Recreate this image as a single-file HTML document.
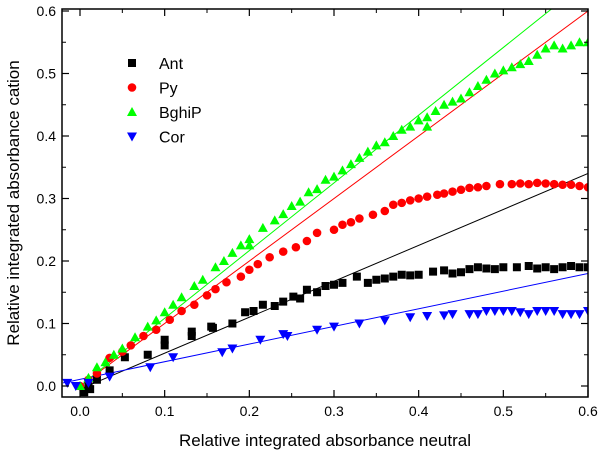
<!DOCTYPE html>
<html><head><meta charset="utf-8"><style>
body{margin:0;background:#fff;}
svg text{font-family:"Liberation Sans",Arial,sans-serif;}
</style></head><body>
<svg id="chart" width="600" height="459" viewBox="0 0 600 459" xmlns="http://www.w3.org/2000/svg">
<defs><clipPath id="clip"><rect x="62" y="9" width="526" height="388"/></clipPath></defs>
<g id="grid"></g>
<g id="lines" clip-path="url(#clip)"></g>
<g id="marks" clip-path="url(#clip)"></g>
<rect x="62" y="9" width="526" height="388" fill="none" stroke="#000" stroke-width="1.5"/>
<g id="ticks"></g>
<text x="325" y="446" font-size="17" text-anchor="middle">Relative integrated absorbance neutral</text>
<text transform="translate(19,203) rotate(-90)" font-size="17" text-anchor="middle">Relative integrated absorbance cation</text>
<g id="legend"></g>
</svg>
<script>
const xTicks=[0.0,0.1,0.2,0.3,0.4,0.5,0.6];
const yTicks=[0.0,0.1,0.2,0.3,0.4,0.5,0.6];
const antX=[0.005,0.01,0.012,0.02,0.035,0.053,0.08,0.1,0.1,0.132,0.132,0.155,0.157,0.18,0.195,0.205,0.216,0.23,0.24,0.252,0.26,0.268,0.28,0.29,0.3,0.31,0.327,0.34,0.35,0.36,0.37,0.38,0.39,0.4,0.417,0.43,0.44,0.45,0.46,0.47,0.48,0.49,0.5,0.516,0.53,0.54,0.55,0.56,0.57,0.58,0.59,0.6];
const antY=[-0.01,0,-0.005,0.01,0.025,0.046,0.05,0.065,0.074,0.08,0.087,0.095,0.093,0.1,0.118,0.12,0.13,0.128,0.135,0.143,0.14,0.154,0.15,0.16,0.162,0.165,0.175,0.165,0.17,0.172,0.175,0.178,0.177,0.178,0.183,0.185,0.18,0.182,0.187,0.19,0.188,0.187,0.19,0.19,0.192,0.188,0.19,0.187,0.19,0.192,0.19,0.19];
const pyX=[0,0.01,0.02,0.035,0.05,0.06,0.075,0.09,0.106,0.12,0.135,0.15,0.16,0.173,0.19,0.2,0.21,0.224,0.24,0.255,0.268,0.28,0.3,0.31,0.32,0.33,0.346,0.36,0.37,0.38,0.39,0.4,0.41,0.422,0.43,0.44,0.45,0.46,0.47,0.48,0.496,0.51,0.52,0.53,0.54,0.55,0.56,0.57,0.58,0.59,0.6];
const pyY=[0,0.01,0.02,0.045,0.055,0.065,0.08,0.09,0.106,0.12,0.13,0.145,0.155,0.166,0.175,0.186,0.195,0.206,0.215,0.222,0.232,0.245,0.25,0.258,0.262,0.268,0.274,0.28,0.29,0.293,0.297,0.3,0.303,0.306,0.308,0.311,0.314,0.317,0.318,0.32,0.323,0.323,0.324,0.323,0.325,0.324,0.323,0.322,0.322,0.32,0.318];
const bgX=[0,0.01,0.02,0.03,0.04,0.05,0.065,0.08,0.09,0.1,0.11,0.12,0.135,0.145,0.16,0.17,0.18,0.19,0.2,0.2,0.216,0.23,0.24,0.25,0.26,0.27,0.28,0.29,0.3,0.31,0.32,0.33,0.34,0.35,0.36,0.37,0.38,0.39,0.4,0.41,0.41,0.42,0.43,0.44,0.45,0.46,0.47,0.48,0.49,0.5,0.51,0.52,0.53,0.54,0.55,0.56,0.57,0.58,0.59,0.6];
const bgY=[0,0.013,0.03,0.038,0.05,0.06,0.078,0.095,0.105,0.118,0.13,0.142,0.16,0.17,0.19,0.2,0.213,0.225,0.235,0.225,0.253,0.265,0.275,0.288,0.295,0.31,0.315,0.33,0.335,0.345,0.355,0.365,0.375,0.385,0.39,0.4,0.41,0.415,0.425,0.43,0.415,0.44,0.45,0.455,0.46,0.47,0.48,0.49,0.5,0.505,0.51,0.515,0.52,0.53,0.54,0.545,0.54,0.545,0.55,0.55];
const corX=[-0.015,-0.005,0.01,0.035,0.083,0.11,0.168,0.18,0.213,0.24,0.245,0.28,0.3,0.33,0.36,0.39,0.41,0.43,0.44,0.46,0.47,0.48,0.49,0.5,0.51,0.52,0.53,0.54,0.55,0.56,0.57,0.58,0.59,0.6];
const corY=[0.005,0,0.005,0.015,0.03,0.046,0.054,0.06,0.074,0.083,0.08,0.09,0.095,0.1,0.105,0.11,0.112,0.113,0.115,0.115,0.115,0.12,0.12,0.12,0.12,0.118,0.115,0.12,0.12,0.12,0.115,0.115,0.115,0.12];
const fitX1=[0,0,0,-0.02];
const fitY1=[-0.005,0,0,0.005];
const fitX2=[0.6,0.6,0.6,0.6];
const fitY2=[0.34,0.6,0.65,0.18];
const seriesNames=["Ant","Py","BghiP","Cor"];
const colors=["#000000","#ff0000","#00ff00","#0000ff"];
const shapes=["square","circle","up","down"];

const NS="http://www.w3.org/2000/svg";
const sx=v=>80+v*(588-80)/0.6;
const sy=v=>386-v*625;
function mk(tag,attrs,parent){const e=document.createElementNS(NS,tag);for(const k in attrs)e.setAttribute(k,attrs[k]);document.getElementById(parent).appendChild(e);return e;}
function marker(shape,x,y,c,parent){
  let e;
  if(shape==="square")e=mk("rect",{x:x-4,y:y-4,width:8,height:8,fill:c},parent);
  else if(shape==="circle")e=mk("circle",{cx:x,cy:y,r:4.3,fill:c},parent);
  else if(shape==="up")e=mk("polygon",{points:`${x-5},${y+4} ${x+5},${y+4} ${x},${y-5}`,fill:c},parent);
  else e=mk("polygon",{points:`${x-5},${y-4} ${x+5},${y-4} ${x},${y+5}`,fill:c},parent);
  return e;
}
xTicks.forEach(t=>{
  const x=sx(t);
  let a=mk("line",{x1:x,y1:397,x2:x,y2:390,stroke:"#000","stroke-width":1.2},"ticks");
  
  
  let b=mk("line",{x1:x,y1:9,x2:x,y2:16,stroke:"#000","stroke-width":1.2},"ticks");
  
  
  if(t<0.6){const m=sx(t+0.05);
    let c=mk("line",{x1:m,y1:397,x2:m,y2:393,stroke:"#000"},"ticks");
    
    
    let d=mk("line",{x1:m,y1:9,x2:m,y2:13,stroke:"#000"},"ticks");
    
    }
  const l=mk("text",{x:x,y:416,"font-size":14,"text-anchor":"middle"},"ticks");
  l.textContent=t.toFixed(1);
  
  
});
yTicks.forEach(t=>{
  const y=sy(t);
  let a=mk("line",{x1:62,y1:y,x2:69,y2:y,stroke:"#000","stroke-width":1.2},"ticks");
  
  
  let b=mk("line",{x1:588,y1:y,x2:581,y2:y,stroke:"#000","stroke-width":1.2},"ticks");
  
  
  if(t<0.6){const m=sy(t+0.05);
    let c=mk("line",{x1:62,y1:m,x2:66,y2:m,stroke:"#000"},"ticks");
    
    
    let d=mk("line",{x1:588,y1:m,x2:584,y2:m,stroke:"#000"},"ticks");
    
    }
  const l=mk("text",{x:56,y:y+5,"font-size":14,"text-anchor":"end"},"ticks");
  l.textContent=t.toFixed(1);
  
  
});
for(let i=0;i<4;i++){
  const ln=mk("line",{x1:sx(fitX1[i]),y1:sy(fitY1[i]),x2:sx(fitX2[i]),y2:sy(fitY2[i]),stroke:colors[i],"stroke-width":1},"lines");
  
  
}
const allX=[antX,pyX,bgX,corX], allY=[antY,pyY,bgY,corY];
for(let i=0;i<4;i++){
  allX[i].forEach((v,j)=>{
    const m=marker(shapes[i],sx(v),sy(allY[i][j]),colors[i],"marks");
    
    
  });
}
for(let i=0;i<4;i++){
  const y=63+i*24.5;
  const m=marker(shapes[i],132,y,colors[i],"legend");
  
  
  const t=mk("text",{x:159,y:y+6,"font-size":16},"legend");
  t.textContent=seriesNames[i];
  
  
}
</script>
</body></html>
